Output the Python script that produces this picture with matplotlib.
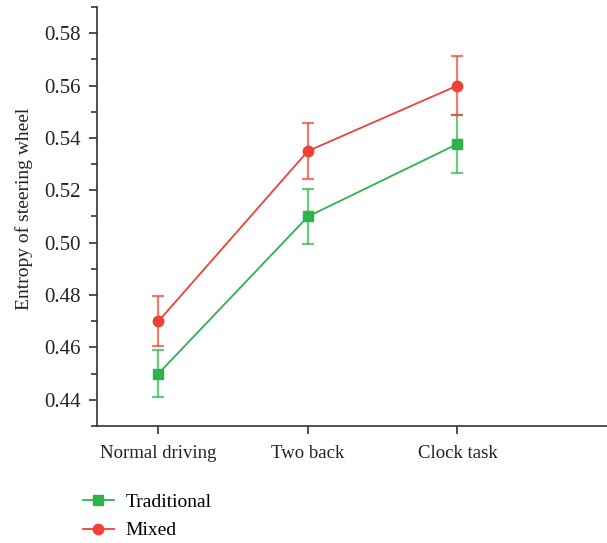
import matplotlib.pyplot as plt
from matplotlib.ticker import MultipleLocator
import numpy as np

plt.rcParams['font.family'] = ['Liberation Serif', 'DejaVu Serif']

conditions = ['Normal driving', 'Two back', 'Clock task']
traditional = [0.450, 0.510, 0.5377]
traditional_err = [0.009, 0.0105, 0.011]
mixed = [0.470, 0.535, 0.560]
mixed_err = [0.0096, 0.0108, 0.0113]

green = '#2db34a'
red = '#ef4136'

fig = plt.figure(figsize=(6.07, 5.43), dpi=100)
ax = fig.add_axes([0.16, 0.2155, 0.84, 0.7716])

x = np.arange(len(conditions))

# error bars drawn a bit lighter than the lines
for vals, errs, col, mk, lab in [(traditional, traditional_err, green, 's', 'Traditional'),
                                  (mixed, mixed_err, red, 'o', 'Mixed')]:
    ax.errorbar(x, vals, yerr=errs, fmt='none', ecolor=col, alpha=0.7,
                elinewidth=1.6, capsize=4, capthick=1.6)
    ax.plot(x, vals, color=col, lw=1.3, marker=mk, markersize=7.5,
            markeredgecolor=col, label=lab)

ax.set_xlim(-0.41, 3.0)
ax.set_ylim(0.43, 0.59)
ax.set_xticks(x)
ax.set_xticklabels(conditions)
ax.yaxis.set_minor_locator(MultipleLocator(0.01))
ax.set_yticks(np.arange(0.44, 0.581, 0.02))
ax.yaxis.set_major_formatter(plt.FormatStrFormatter('%.2f'))

for s in ['top', 'right']:
    ax.spines[s].set_visible(False)
for s in ['left', 'bottom']:
    ax.spines[s].set_color('#333333')
    ax.spines[s].set_linewidth(1.2)

ax.tick_params(axis='both', which='major', length=6, width=1.2, color='#333333',
               labelcolor='#222222', pad=6)
ax.tick_params(axis='y', labelsize=15)
ax.tick_params(axis='y', which='minor', length=4, width=1.2, color='#333333')
ax.tick_params(axis='x', labelsize=13.5, pad=8)

ax.set_ylabel('Entropy of steering wheel', fontsize=14, color='#222222')
ax.yaxis.set_label_coords(-0.126, 0.518)

fig.legend(loc='upper left', bbox_to_anchor=(0.1235, 0.1056), frameon=False,
           fontsize=14, handlelength=1.6, handletextpad=0.6, labelspacing=0.55,
           borderaxespad=0)

fig.savefig('out.png', dpi=100)
